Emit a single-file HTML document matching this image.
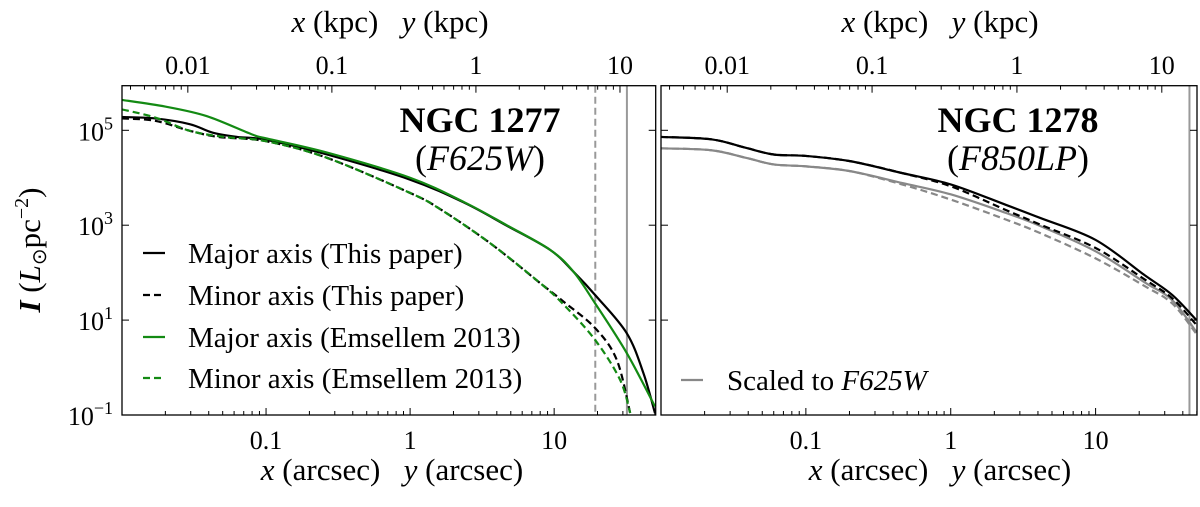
<!DOCTYPE html>
<html><head><meta charset="utf-8"><style>
body{margin:0;background:#fff}
svg text{font-family:"Liberation Serif",serif;fill:#000}
</style></head><body>
<svg id="c" width="1200" height="502" viewBox="0 0 1200 502" xmlns="http://www.w3.org/2000/svg"></svg>
<script>
// data: log10(arcsec) and log10(I)
const lx1=[-2,-1.77,-1.53,-1.37,-1.2,-1.0,-0.577,0,0.379,0.671,0.972,1.134,1.296,1.505,1.62,1.70];
const blackMajor1=[5.28,5.25,5.13,4.95,4.86,4.80,4.49,3.96,3.47,2.99,2.48,2.02,1.49,0.72,-0.12,-0.96];
const lxMinor=[-2,-1.77,-1.53,-1.33,-1.0,-0.577,0,0.208,0.556,0.903,1.065,1.285,1.435,1.528];
const blackMinor1=[5.25,5.2,4.99,4.86,4.77,4.42,3.68,3.34,2.62,1.78,1.39,0.83,0.16,-0.96];
const lxG=[-2,-1.7,-1.413,-1.103,-1.0,-0.577,0,0.379,0.671,0.972,1.134,1.285,1.505,1.70];
const greenMajor1=[5.64,5.5,5.30,4.92,4.83,4.53,4.0,3.48,3.0,2.48,2.02,1.35,0.30,-0.82];
const lxGm=[-2,-1.77,-1.53,-1.29,-1.0,-0.577,0,0.208,0.556,0.903,1.065,1.285,1.458,1.528];
const greenMinor1=[5.44,5.27,4.99,4.86,4.77,4.42,3.68,3.34,2.62,1.78,1.33,0.58,-0.26,-0.96];
const lx2=[-2,-1.653,-1.414,-1.222,-1.0,-0.696,-0.337,0,0.380,0.62,1.0,1.337,1.529,1.696];
const blackMajor2=[4.86,4.81,4.63,4.49,4.46,4.35,4.10,3.86,3.43,3.15,2.69,1.95,1.53,1.0];
const blackMinor2=[4.86,4.81,4.63,4.49,4.46,4.35,4.10,3.82,3.32,3.01,2.52,1.86,1.46,0.9];
const grayMajor2=[4.62,4.58,4.42,4.28,4.24,4.14,3.89,3.65,3.26,2.98,2.45,1.80,1.42,0.75];
const grayMinor2=[4.62,4.58,4.42,4.28,4.24,4.14,3.86,3.54,3.12,2.83,2.30,1.72,1.35,0.71];
const yTicks=[-1,1,3,5];
const xTickLabels=["0.1","1","10"];
const topTickLabels=["0.01","0.1","1","10"];
const kpcOffset=0.457;
const vlines1=[Math.log10(19.3),Math.log10(32)];
const vlines2=[1.648];

const NS="http://www.w3.org/2000/svg";
const svg=document.getElementById('c');
function el(t,a,p){const e=document.createElementNS(NS,t);for(const k in a)e.setAttribute(k,a[k]);(p||svg).appendChild(e);return e;}
const Y0=415,Y1=85.7,yMin=-1,yMax=5.94;
function sy(v){return Y0-(v-yMin)/(yMax-yMin)*(Y0-Y1);}
function path(xs,ys,sx){const p=xs.map((x,i)=>[sx(x),sy(ys[i])]);let d="M"+p[0][0]+","+p[0][1];
for(let i=0;i<p.length-1;i++){const a=p[i-1]||p[i],b=p[i],c=p[i+1],e=p[i+2]||c;
d+=` C${b[0]+(c[0]-a[0])/6},${b[1]+(c[1]-a[1])/6} ${c[0]-(e[0]-b[0])/6},${c[1]-(e[1]-b[1])/6} ${c[0]},${c[1]}`;}return d;}
function panel(L,R,xmin,xmax,name,showY){
  const sx=v=>L+(v-xmin)/(xmax-xmin)*(R-L);
  const g=el('g',{'clip-path':'url(#cl'+name+')'});
  
  
  const cp=el('clipPath',{id:'cl'+name});el('rect',{x:L,y:Y1,width:R-L,height:Y0-Y1},cp);
  const tg=el('g',{stroke:'#000','stroke-width':1});
  
  
  for(let d=-3;d<=2;d++)for(let m=1;m<10;m++){const v=d+Math.log10(m);
    const len=m==1?7:4;
    if(v>=xmin&&v<=xmax){const x=sx(v);el('line',{x1:x,x2:x,y1:Y0,y2:Y0-len},tg);}
    const vt=v+kpcOffset;if(vt>=xmin&&vt<=xmax){const x=sx(vt);el('line',{x1:x,x2:x,y1:Y1,y2:Y1+len},tg);}}
  for(let v=-1;v<=5;v++){const y=sy(v);if(v%2==0)continue;
    el('line',{x1:L,x2:L+7,y1:y,y2:y},tg);el('line',{x1:R,x2:R-7,y1:y,y2:y},tg);}
  xTickLabels.forEach((t,i)=>{const x=sx(i-1);const e=el('text',{x:x,y:449,'font-size':26,'text-anchor':'middle'});e.textContent=t;
    });
  topTickLabels.forEach((t,i)=>{const x=sx(i-2+kpcOffset);const e=el('text',{x:x,y:74,'font-size':26,'text-anchor':'middle'});e.textContent=t;
    });
  if(showY)yTicks.forEach(v=>{const e=el('text',{x:113,y:sy(v)+10,'font-size':26,'text-anchor':'end'});
    e.innerHTML='10<tspan dy="-11" font-size="18">'+(v<0?'−1':v)+'</tspan>';
    });
  return {sx,g};
}
function line(p,xs,ys,col,dash,nm,w){const e=el('path',{d:path(xs,ys,p.sx),fill:'none',stroke:col,'stroke-width':w||2.2,'stroke-dasharray':dash?'7,4':'none'},p.g);
  }
function vline(p,v,dash,nm){const x=p.sx(v);const e=el('line',{x1:x,x2:x,y1:Y1,y2:Y0,stroke:'#999','stroke-width':2,'stroke-dasharray':dash?'7,4':'none'},p.g);
  }

const p1=panel(122,655.7,-2,1.705,'ngc1277',true);
vline(p1,vlines1[0],true,'vline-dashed');vline(p1,vlines1[1],false,'vline-solid');
line(p1,lx1,blackMajor1,'#000',false,'black-major-line');
line(p1,lxMinor,blackMinor1,'#000',true,'black-minor-line');
line(p1,lxG,greenMajor1,'#138a13',false,'green-major-line');
line(p1,lxGm,greenMinor1,'#138a13',true,'green-minor-line');
const p2=panel(661,1197,-2,1.70,'ngc1278',false);
vline(p2,vlines2[0],false,'vline-solid-right');
line(p2,lx2,grayMajor2,'#888',false,'gray-major-line');
line(p2,lx2,grayMinor2,'#888',true,'gray-minor-line');
line(p2,lx2,blackMajor2,'#000',false,'black-major-line-right');
line(p2,lx2,blackMinor2,'#000',true,'black-minor-line-right');
</script>
<svg width="1200" height="502" style="position:absolute;left:0;top:0" xmlns="http://www.w3.org/2000/svg">
<g fill="none" stroke="#000" stroke-width="1.3">
<rect x="122" y="85.7" width="533.7" height="329.3"/>
<rect x="661" y="85.7" width="536" height="329.3"/>
</g>
<g font-family="Liberation Serif,serif" font-size="36">
<text x="480" y="132" text-anchor="middle" font-weight="bold">NGC 1277</text>
<text x="480" y="170" text-anchor="middle">(<tspan font-style="italic">F625W</tspan>)</text>
<text x="1018" y="132" text-anchor="middle" font-weight="bold">NGC 1278</text>
<text x="1018" y="170" text-anchor="middle">(<tspan font-style="italic">F850LP</tspan>)</text>
</g>
<g font-family="Liberation Serif,serif" font-size="29">
<line x1="143" x2="165" y1="253" y2="253" stroke="#000" stroke-width="2.2"/>
<text x="188" y="263">Major axis (This paper)</text>
<line x1="143" x2="165" y1="295" y2="295" stroke="#000" stroke-width="2.2" stroke-dasharray="7,4"/>
<text x="188" y="305">Minor axis (This paper)</text>
<line x1="143" x2="165" y1="337" y2="337" stroke="#138a13" stroke-width="2.2"/>
<text x="188" y="347">Major axis (Emsellem 2013)</text>
<line x1="143" x2="165" y1="378" y2="378" stroke="#138a13" stroke-width="2.2" stroke-dasharray="7,4"/>
<text x="188" y="388">Minor axis (Emsellem 2013)</text>
<line x1="681" x2="703" y1="380" y2="380" stroke="#888" stroke-width="2.2"/>
<text x="727" y="390">Scaled to <tspan font-style="italic">F625W</tspan></text>
</g>
<g font-family="Liberation Serif,serif" font-size="31">
<text x="392" y="480" text-anchor="middle" xml:space="preserve"><tspan font-style="italic">x</tspan> (arcsec)   <tspan font-style="italic">y</tspan> (arcsec)</text>
<text x="940" y="480" text-anchor="middle" xml:space="preserve"><tspan font-style="italic">x</tspan> (arcsec)   <tspan font-style="italic">y</tspan> (arcsec)</text>
<text x="390" y="32" text-anchor="middle" xml:space="preserve"><tspan font-style="italic">x</tspan> (kpc)   <tspan font-style="italic">y</tspan> (kpc)</text>
<text x="940" y="32" text-anchor="middle" xml:space="preserve"><tspan font-style="italic">x</tspan> (kpc)   <tspan font-style="italic">y</tspan> (kpc)</text>
<text transform="translate(40,250) rotate(-90)" text-anchor="middle"><tspan font-style="italic" font-weight="bold">I</tspan> (<tspan font-style="italic">L</tspan><tspan font-size="20" dy="6">⊙</tspan><tspan dy="-6">pc</tspan><tspan font-size="20" dy="-12">−2</tspan><tspan dy="12">)</tspan></text>
</g>
</svg>
</body></html>
